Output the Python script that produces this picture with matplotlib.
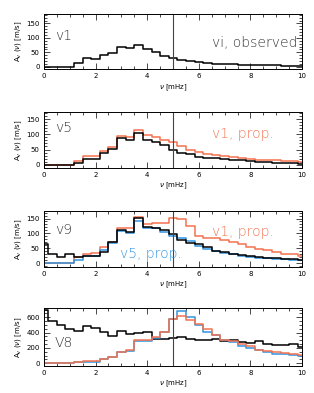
import numpy as np
import matplotlib
matplotlib.use('Agg')
import matplotlib.pyplot as plt
from matplotlib.ticker import MultipleLocator

# frequency bins (mHz), bin centres every 1/3 mHz
freq = np.arange(31) / 3.0

# panel 1: v1 observed
v1_obs = [0, 0, 0, 0, 14, 30, 26, 40, 48, 70, 64, 76, 60, 50, 38, 30,
          24, 20, 16, 13, 11, 10, 9, 8, 7, 6, 5, 5, 4, 3, 2]

# panel 2: v5 observed, v1 propagated
v5_obs = [0, 0, 0, 0, 5, 20, 20, 38, 52, 87, 80, 103, 80, 74, 65, 50,
          38, 34, 27, 23, 21, 19, 16, 14, 12, 10, 8, 7, 6, 5, 4]
v5_from_v1 = [0, 0, 0, 0, 12, 30, 28, 45, 58, 93, 90, 114, 96, 90, 82, 74,
              60, 50, 41, 36, 33, 28, 25, 22, 20, 17, 15, 14, 12, 11, 9]

# panel 3: v9 observed, v1 propagated, v5 propagated
v9_obs = [65, 30, 21, 30, 21, 26, 24, 37, 70, 110, 106, 152, 123, 119, 112, 97,
          79, 67, 65, 54, 40, 37, 32, 27, 23, 21, 19, 16, 15, 14, 12]
v9_from_v1 = [0, 0, 0, 0, 21, 32, 34, 56, 70, 119, 119, 155, 130, 136, 136, 152,
              147, 125, 92, 86, 83, 78, 70, 65, 54, 48, 43, 37, 32, 30, 25]
v9_from_v5 = [0, 0, 0, 0, 10, 26, 24, 43, 68, 108, 103, 143, 119, 117, 106, 92,
              83, 76, 59, 48, 40, 35, 30, 24, 21, 19, 16, 14, 13, 12, 10]

# panel 4: v8 observed, v1 propagated, v5 propagated
v8_obs = [700, 555, 498, 441, 419, 485, 454, 410, 357, 423, 388, 401, 410, 313, 322, 335,
          340, 322, 300, 309, 322, 291, 300, 278, 265, 291, 256, 234, 234, 247, 212]
v8_from_v1 = [0, 0, 0, 5, 15, 26, 26, 57, 80, 146, 168, 300, 309, 344, 410, 573,
              617, 565, 507, 441, 375, 300, 291, 247, 220, 168, 154, 146, 132, 123, 101]
v8_from_v5 = [0, 0, 0, 0, 10, 22, 22, 55, 78, 145, 165, 290, 290, 335, 405, 580,
              688, 608, 498, 410, 366, 300, 278, 220, 203, 168, 146, 123, 115, 110, 93]

orange = '#f2724f'
blue = '#2f93e0'
dark = '#333333'

fig = plt.figure(figsize=(3.14, 3.93), dpi=100)
bottoms = [0.824, 0.573, 0.321, 0.069]
heights = [0.140, 0.142, 0.142, 0.148]

# (series, ylim, major, minor, text labels as (text, x, y, colour))
panels = [
    ([(v1_obs, 'black')], (-8, 182), 50, 10,
     [('v1', 0.43, 105, dark), ('vi, observed', 6.5, 82, dark)]),
    ([(v5_from_v1, orange), (v5_obs, 'black')], (-10, 173), 50, 10,
     [('v5', 0.43, 120, dark), ('v1, prop.', 6.5, 100, orange)]),
    ([(v9_from_v1, orange), (v9_from_v5, blue), (v9_obs, 'black')], (-12, 175), 50, 10,
     [('v9', 0.43, 112, dark), ('v1, prop.', 6.5, 105, orange),
      ('v5, prop.', 2.95, 32, blue)]),
    ([(v8_obs, 'black'), (v8_from_v5, blue), (v8_from_v1, orange)], (-35, 725), 200, 50,
     [('V8', 0.43, 270, dark)]),
]

for i, (series, ylim, major, minor, labels) in enumerate(panels):
    ax = fig.add_axes([0.140, bottoms[i], 0.822, heights[i]])
    for vals, col in series:
        ax.plot(freq, vals, drawstyle='steps-mid', color=col, lw=1.1)
    ax.axvline(5, color='#444444', lw=0.8)
    ax.set_xlim(0, 10)
    ax.set_ylim(*ylim)
    ax.xaxis.set_major_locator(MultipleLocator(2))
    ax.xaxis.set_minor_locator(MultipleLocator(0.5))
    ax.yaxis.set_major_locator(MultipleLocator(major))
    ax.yaxis.set_minor_locator(MultipleLocator(minor))
    ax.tick_params(which='both', direction='in', top=True, right=True,
                   labelsize=5, width=0.5, pad=3)
    ax.tick_params(which='major', length=4)
    ax.tick_params(which='minor', length=2)
    for s in ax.spines.values():
        s.set_linewidth(0.7)
    ax.set_xlabel(r'$\nu$ [mHz]', fontsize=5, labelpad=2)
    ax.set_ylabel(r'A$_v$ ($\nu$) [m/s]', fontsize=5, labelpad=2)
    for txt, x, y, col in labels:
        ax.text(x, y, txt, color=col, ha='left', va='center', fontsize=10,
                fontweight='light')

fig.savefig('out.png', dpi=100)
